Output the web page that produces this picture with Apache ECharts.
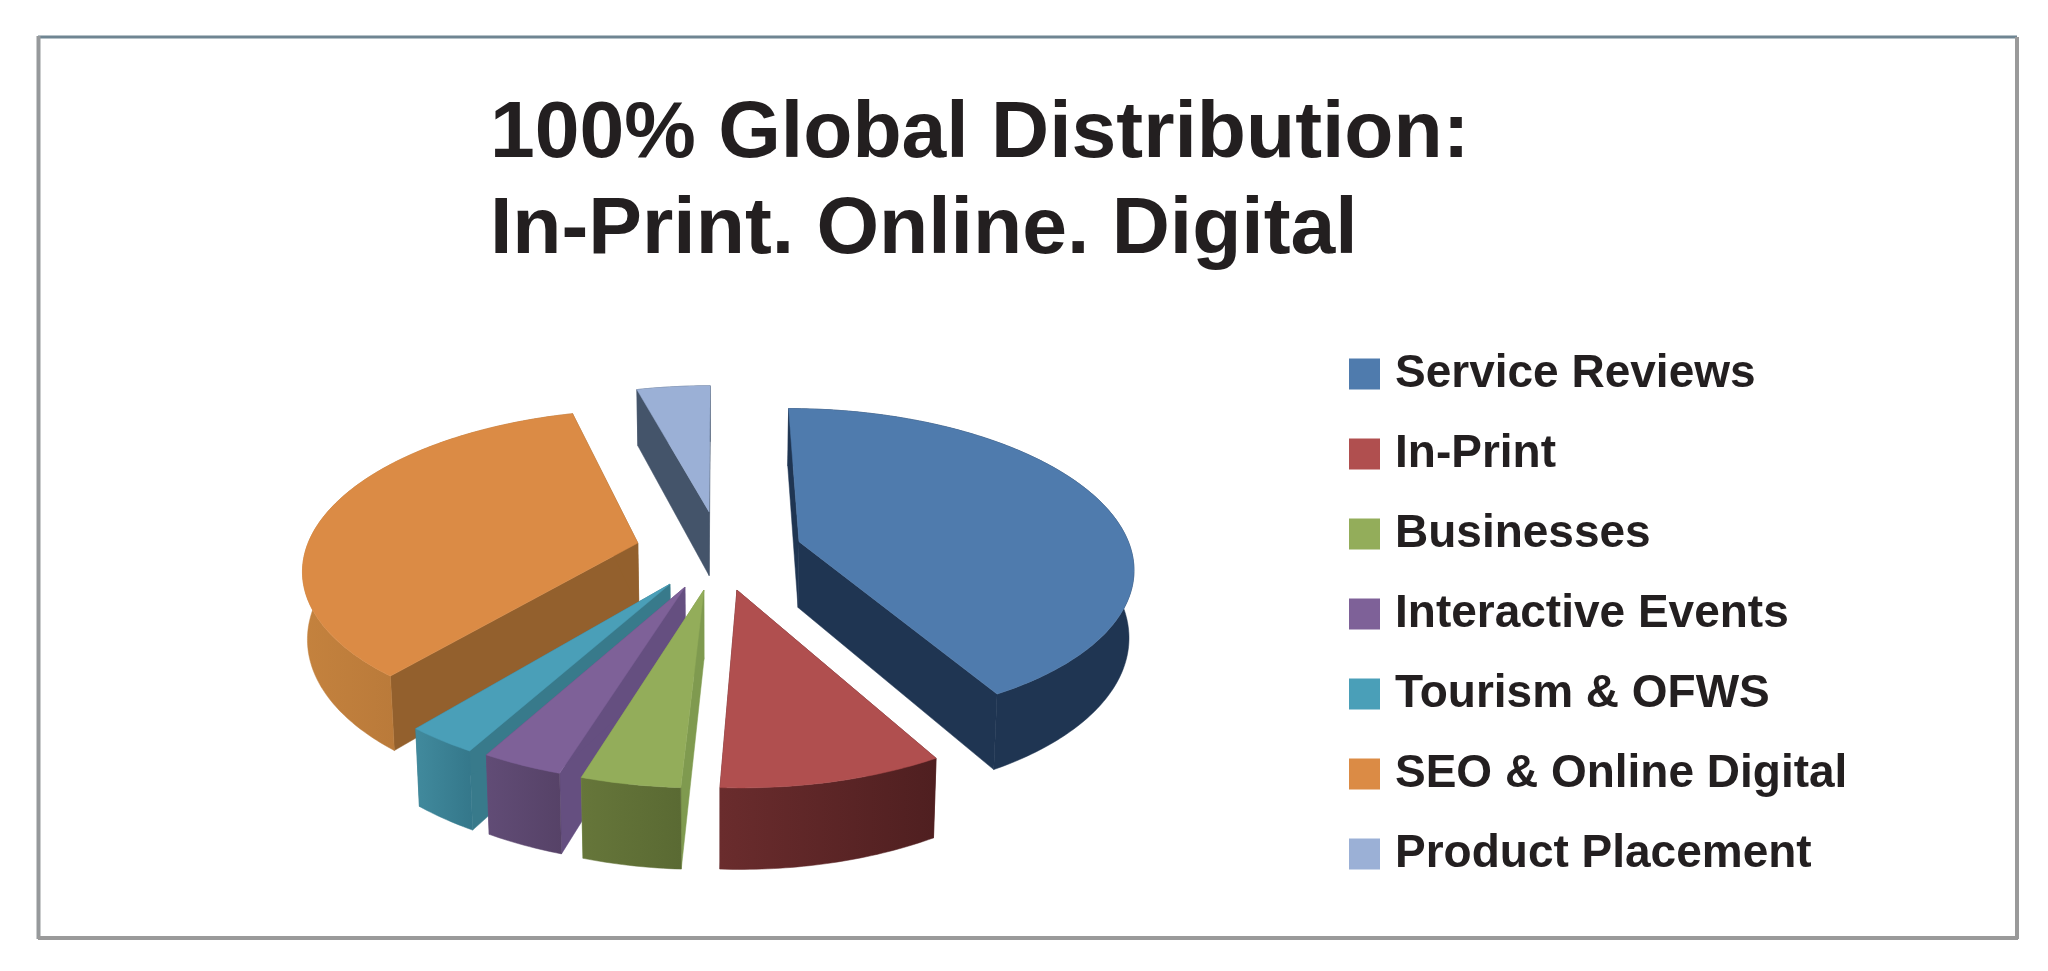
<!DOCTYPE html>
<html><head><meta charset="utf-8">
<style>html,body{margin:0;padding:0;background:#fff}#c{width:2048px;height:971px}</style>
<script src="https://cdn.jsdelivr.net/npm/echarts@6/dist/echarts.min.js"></script>
</head><body><div id="c"></div>
<script>
const titleLines = ['100% Global Distribution:', 'In-Print. Online. Digital'];
const categories = ['Service Reviews','In-Print','Businesses','Interactive Events','Tourism & OFWS','SEO & Online Digital','Product Placement'];
const shares = [41.8, 9, 4, 3.3, 2.9, 34.8, 4.2];

// styles
const topColors  = ['#4f7bad','#b04f4f','#93ad5a','#7e6198','#4a9fb8','#db8b45','#9bb0d6'];
const cutColors  = ['#1f3552','#5a2324','#7f9a4f','#654f80','#387a8b','#93602d','#44546a'];
const wallLeft   = ['#1f3552','#6a2c2d','#66763a','#614c76','#418a9d','#c4823e','#44546a'];
const wallRight  = ['#1f3552','#4f1f20','#5a6a33','#564267','#34778a','#a66b32','#44546a'];
// explosion of each slice on the pie plane (disc units)
const explodeU = [0.246, 0.055, -0.041, -0.096, -0.140, -0.243, -0.028];
const explodeV = [-0.115, 0.188, 0.188, 0.170, 0.152, -0.106, -0.317];
const paintOrder = [6, 5, 0, 4, 3, 2, 1];

// perspective camera of the pie
const CX = 718, CY = 559.5, RX = 335, RY = 158, K = 0.15, DEPTH = 67, BASE_X = 0.988;

function project(u, v, lower) {
  const s = 1 / (1 - K * v);
  const x = CX + RX * u * s * (lower ? BASE_X : 1);
  const y = CY + RY * v * s + (lower ? DEPTH * s : 0);
  return [x, y];
}

const total = shares.reduce((a, b) => a + b, 0);
const startShare = shares.map((_, i) => shares.slice(0, i).reduce((a, b) => a + b, 0));

function renderSlice(i, api) {
  const value = api.value(0);
  const a0 = startShare[i] / total * 2 * Math.PI;
  const a1 = a0 + value / total * 2 * Math.PI;
  const ou = explodeU[i], ov = explodeV[i];
  const rim = [];
  const n = Math.max(2, Math.ceil((a1 - a0) / 0.015));
  for (let j = 0; j <= n; j++) {
    const a = a0 + (a1 - a0) * j / n;
    rim.push([ou + Math.sin(a), ov - Math.cos(a)]);
  }
  const top = rim.map(p => project(p[0], p[1], false));
  const low = rim.map(p => project(p[0], p[1], true));
  const apexT = project(ou, ov, false), apexL = project(ou, ov, true);
  const poly = (points, fill) => ({ type: 'polygon', shape: { points }, style: { fill, stroke: fill, lineWidth: 0.5 } });
  const grad = new echarts.graphic.LinearGradient(0, 0, 1, 0, [
    { offset: 0, color: wallLeft[i] }, { offset: 1, color: wallRight[i] }]);
  return {
    type: 'group',
    children: [
      poly([apexT, top[0], low[0], apexL], cutColors[i]),
      poly([apexT, top[n], low[n], apexL], cutColors[i]),
      poly(top.concat(low.slice().reverse()), grad),
      poly([apexT].concat(top), topColors[i])
    ]
  };
}

const chart = echarts.init(document.getElementById('c'), null, { renderer: 'canvas' });
chart.setOption({
  animation: false,
  backgroundColor: '#ffffff',
  title: {
    text: titleLines.join('\n'),
    left: 485, top: 82,
    textStyle: { fontFamily: 'Liberation Sans', fontWeight: 'bold', fontSize: 80.5, lineHeight: 96, color: '#231f20' }
  },
  legend: {
    orient: 'vertical', left: 1344, top: 346,
    data: categories, icon: 'rect',
    itemWidth: 31, itemHeight: 31, itemGap: 34,
    selectedMode: false,
    textStyle: { fontFamily: 'Liberation Sans', fontWeight: 'bold', fontSize: 46, lineHeight: 31, color: '#231f20', padding: [0, 0, 0, 10] }
  },
  graphic: [
    { type: 'line', shape: { x1: 38, y1: 37, x2: 2017, y2: 37 }, style: { stroke: '#6f8592', lineWidth: 3 } },
    { type: 'line', shape: { x1: 38.5, y1: 36, x2: 38.5, y2: 939 }, style: { stroke: '#96999b', lineWidth: 4 } },
    { type: 'line', shape: { x1: 38, y1: 938, x2: 2018, y2: 938 }, style: { stroke: '#9a9a9a', lineWidth: 4 } },
    { type: 'line', shape: { x1: 2017, y1: 37, x2: 2017, y2: 939 }, style: { stroke: '#9a9a9a', lineWidth: 4 } }
  ],
  series: paintOrder.map(i => ({
    type: 'custom',
    name: categories[i],
    coordinateSystem: 'none',
    silent: true,
    itemStyle: { color: topColors[i] },
    data: [[shares[i]]],
    renderItem: (params, api) => renderSlice(i, api)
  }))
});
</script></body></html>
